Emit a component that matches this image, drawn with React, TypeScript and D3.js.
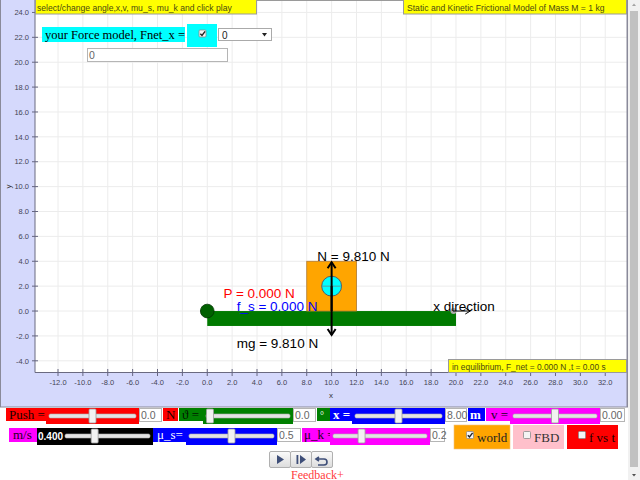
import React from "react";
import * as d3 from "d3";

// ---------- data ----------
const xTickValues = [-12, -10, -8, -6, -4, -2, 0, 2, 4, 6, 8, 10, 12, 14, 16, 18, 20, 22, 24, 26, 28, 30, 32];
const yTickValues = [-4, -2, 0, 2, 4, 6, 8, 10, 12, 14, 16, 18, 20, 22, 24];

const massKg = 1;
const blockX = 8.0;
const blockSize = 4;
const planeLength = 20;
const planeThickness = 1.2;
const ballRadius = 0.8;
const pivotRadius = 0.55;
const forceScale = 0.4;
const timeS = 0.0;
const fNet = 0.0;

const forceNames = ["N", "mg", "P", "f_s"];
const forceValues = [9.81, 9.81, 0.0, 0.0];
const forceColors = ["#000000", "#000000", "#ff0000", "#0000ff"];
// label anchors (world units)
const forceLabelX = [8.85, 2.37, 1.3, 2.37];
const forceLabelY = [4.02, -2.97, 1.02, 0.0];

const pushN = 0.0;
const thetaDeg = 0.0;
const posX = 8.0;
const velocity = 0.0;
const playSpeed = 0.4;
const muS = 0.5;
const muK = 0.2;

const SANS = "'Liberation Sans', Arial, sans-serif";
const SERIF = "'Liberation Serif', 'Times New Roman', serif";

// ---------- scales ----------
const sx = d3.scaleLinear().domain([-13.85, 33.75]).range([35, 627]);
const sy = d3.scaleLinear().domain([-4.9, 25]).range([372, 0]);

type LabelProps = { x0: number; x1: number; y0: number; y1: number; fill: string; text: string; color: string; bold?: boolean; size?: number; tx?: number };
function Label({ x0, x1, y0, y1, fill, text, color, bold, size, tx }: LabelProps) {
  return (
    <g>
      <rect x={x0} y={y0} width={x1 - x0} height={y1 - y0} fill={fill} />
      <text x={tx ?? x0 + 3} y={y0 + 11} fontFamily={SERIF} fontSize={size ?? 13} fontWeight={bold ? "bold" : "normal"} fill={color}>
        {text}
      </text>
    </g>
  );
}

type SliderProps = { x0: number; x1: number; y0: number; y1: number; fill: string; value: number; domain: [number, number] };
function Slider({ x0, x1, y0, y1, fill, value, domain }: SliderProps) {
  const t = d3.scaleLinear().domain(domain).range([x0 + 7, x1 - 7]);
  const cy = y0 + 8;
  const cx = t(value);
  return (
    <g>
      <rect x={x0} y={y0} width={x1 - x0} height={y1 - y0} fill={fill} />
      <rect x={x0 + 3} y={cy - 2} width={x1 - x0 - 6} height={4} fill="#e4e4e4" stroke="#b0b0b0" strokeWidth={0.6} rx={1.5} />
      <rect x={cx - 3.5} y={y0 + 1} width={7} height={14} fill="#f2f2f2" stroke="#9a9a9a" strokeWidth={0.8} rx={1} />
    </g>
  );
}

function Input({ x0, x1, y0, y1, text }: { x0: number; x1: number; y0: number; y1: number; text: string }) {
  return (
    <g>
      <rect x={x0 + 0.5} y={y0 + 0.5} width={x1 - x0 - 1} height={y1 - y0 - 1} fill="#ffffff" stroke="#b5b5b5" />
      <text x={x0 + 2} y={y1 - 3.5} fontFamily={SANS} fontSize={10.5} fill="#666">{text}</text>
    </g>
  );
}

function CheckBox({ x, y, checked }: { x: number; y: number; checked: boolean }) {
  return (
    <g>
      <rect x={x + 0.5} y={y + 0.5} width={7} height={7} fill="#f4f4f4" stroke="#8a8a8a" strokeWidth={0.8} rx={1} />
      {checked && <path d={`M${x + 1.8},${y + 4.2} L${x + 3.5},${y + 6} L${x + 6.6},${y + 1.8}`} fill="none" stroke="#222" strokeWidth={1.4} />}
    </g>
  );
}

export default function App() {
  const x0 = sx(0);
  const y0 = sy(0);

  const nTip = sy(forceValues[0] * forceScale);
  const mgStart = sy(blockSize / 2);
  const mgTip = sy(blockSize / 2 - forceValues[1] * forceScale);
  const ax = sx(blockX + blockSize / 2);
  const ballR = sx(ballRadius) - sx(0);

  return (
    <svg width={640} height={480} style={{ position: "absolute", left: 0, top: 0 }} xmlns="http://www.w3.org/2000/svg">
      <rect x={0} y={0} width={640} height={480} fill="#ffffff" />
      {/* panel */}
      <rect x={0.5} y={-1} width={627} height={408} fill="#d5d9fc" stroke="#8a8a9a" />
      {/* plot area */}
      <rect x={35} y={0} width={592} height={372} fill="#ffffff" />
      {xTickValues.map((v) => (
        <line key={"gx" + v} x1={sx(v)} x2={sx(v)} y1={0} y2={372} stroke="#ececec" />
      ))}
      {yTickValues.map((v) => (
        <line key={"gy" + v} x1={35} x2={627} y1={sy(v)} y2={sy(v)} stroke="#ececec" />
      ))}
      <line x1={35} x2={35} y1={0} y2={372.5} stroke="#6a6a80" />
      <line x1={35} x2={627} y1={372.5} y2={372.5} stroke="#6a6a80" />
      <line x1={35} x2={627} y1={0.5} y2={0.5} stroke="#9a9a9a" />
      <line x1={627} x2={627} y1={0} y2={407} stroke="#8a8a9a" />

      {/* ticks */}
      {xTickValues.map((v) => (
        <g key={"tx" + v}>
          <line x1={sx(v)} x2={sx(v)} y1={369} y2={376} stroke="#666680" />
          <text x={sx(v)} y={384.5} textAnchor="middle" fontFamily={SANS} fontSize={7.5} fill="#444455">{v.toFixed(1)}</text>
        </g>
      ))}
      {yTickValues.map((v) => (
        <g key={"ty" + v}>
          <line x1={32} x2={38} y1={sy(v)} y2={sy(v)} stroke="#666680" />
          <text x={29} y={sy(v) + 2.7} textAnchor="end" fontFamily={SANS} fontSize={7.5} fill="#444455">{v.toFixed(1)}</text>
        </g>
      ))}
      <text x={331} y={398} textAnchor="middle" fontFamily={SANS} fontSize={8} fill="#333">x</text>
      <text transform={`translate(11,${sy(10)}) rotate(-90)`} textAnchor="middle" fontFamily={SANS} fontSize={8} fill="#333">y</text>

      {/* physical objects */}
      <rect x={x0} y={y0} width={sx(planeLength) - x0} height={sy(-planeThickness) - y0} fill="#007a00" />
      <circle cx={x0} cy={y0} r={sx(pivotRadius) - x0} fill="#006000" stroke="#003300" strokeWidth={0.8} />
      <rect x={sx(blockX)} y={sy(blockSize)} width={sx(blockX + blockSize) - sx(blockX)} height={y0 - sy(blockSize)} fill="#ffa500" stroke="#b07a30" strokeWidth={0.8} />
      <circle cx={ax} cy={sy(blockSize / 2)} r={ballR} fill="#00ffff" stroke="#446" strokeWidth={0.8} />
      <line x1={ax - ballR} x2={ax + ballR} y1={sy(blockSize / 2)} y2={sy(blockSize / 2)} stroke="#777" strokeWidth={0.7} />

      {/* x direction */}
      <circle cx={sx(planeLength) - 2.5} cy={y0} r={3} fill="#aaaaaa" />
      <line x1={sx(planeLength) - 3} x2={sx(planeLength + 1.15)} y1={y0} y2={y0} stroke="#000" strokeWidth={1} />
      <path d={`M${sx(planeLength + 1.15) - 5},${y0 - 3} L${sx(planeLength + 1.15)},${y0} L${sx(planeLength + 1.15) - 5},${y0 + 3}`} fill="none" stroke="#000" strokeWidth={1} />

      {/* force arrows */}
      <line x1={ax} x2={ax} y1={y0} y2={nTip} stroke="#000" strokeWidth={2} />
      <path d={`M${ax - 4},${nTip + 6} L${ax},${nTip} L${ax + 4},${nTip + 6}`} fill="none" stroke="#000" strokeWidth={2} />
      <line x1={ax} x2={ax} y1={mgStart} y2={mgTip} stroke="#000" strokeWidth={2} />
      <path d={`M${ax - 4},${mgTip - 6} L${ax},${mgTip} L${ax + 4},${mgTip - 6}`} fill="none" stroke="#000" strokeWidth={2} />

      {forceNames.map((n, i) => (
        <text key={n} x={sx(forceLabelX[i])} y={sy(forceLabelY[i])} fontFamily={SANS} fontSize={13.5} fill={forceColors[i]}>
          {`${n} = ${forceValues[i].toFixed(3)} N`}
        </text>
      ))}
      <text x={sx(18.18)} y={y0} fontFamily={SANS} fontSize={13.5} fill="#000">x direction</text>

      {/* yellow notes */}
      <rect x={35.5} y={-1} width={221} height={15} fill="#ffff00" stroke="#9a9a9a" />
      <text x={37} y={10.5} fontFamily={SANS} fontSize={8.6} fill="#4a4a10">select/change angle,x,v, mu_s, mu_k and click play</text>
      <rect x={403.5} y={-1} width={223} height={15} fill="#ffff00" stroke="#9a9a9a" />
      <text x={407} y={10.5} fontFamily={SANS} fontSize={8.6} fill="#4a4a10">{`Static and Kinetic Frictional Model of Mass M = ${massKg} kg`}</text>
      <rect x={448.5} y={359.5} width={178} height={13} fill="#ffff00" stroke="#9a9a9a" />
      <text x={452} y={369.5} fontFamily={SANS} fontSize={8.4} fill="#4a4a10">{`in equilibrium, F_net = ${fNet.toFixed(3)} N ,t = ${timeS.toFixed(2)} s`}</text>

      {/* force model inputs */}
      <rect x={42} y={27} width={143} height={15} fill="#00ffff" />
      <text x={45} y={39} fontFamily={SERIF} fontSize={12.5} fill="#000">your Force model, Fnet_x =</text>
      <rect x={187} y={24} width={30} height={23} fill="#00ffff" />
      <CheckBox x={198.5} y={29.5} checked={true} />
      <rect x={218.5} y={28.5} width={53} height={12} fill="#fff" stroke="#aaa" />
      <text x={222} y={38.5} fontFamily={SANS} fontSize={10} fill="#222">0</text>
      <path d="M262,33 L267,33 L264.5,36.5 Z" fill="#222" />
      <Input x0={87} x1={228} y0={48} y1={62} text="0" />

      {/* controls row 1 */}
      <Label x0={6} x1={46} y0={408} y1={421} fill="#ff0000" text="Push =" color="#220000" />
      <Slider x0={46} x1={139} y0={408} y1={424} fill="#ff0000" value={pushN} domain={[-10, 10]} />
      <Input x0={139} x1={162} y0={408} y1={422} text={pushN.toFixed(1)} />
      <Label x0={163} x1={178} y0={408} y1={421} fill="#ff0000" text="N" color="#220000" />
      <Label x0={179} x1={205} y0={408} y1={421} fill="#008000" text="ϑ =" color="#001800" />
      <Slider x0={203} x1={293} y0={408} y1={424} fill="#008000" value={thetaDeg} domain={[0, 90]} />
      <Input x0={293} x1={316} y0={408} y1={422} text={thetaDeg.toFixed(1)} />
      <Label x0={317} x1={330} y0={408} y1={421} fill="#008000" text="°" color="#ffffff" size={10} tx={320} />
      <Label x0={330} x1={353} y0={408} y1={421} fill="#0000ff" text="x =" color="#ffffff" bold={true} />
      <Slider x0={352} x1={445} y0={408} y1={424} fill="#0000ff" value={posX} domain={[-10, 26]} />
      <Input x0={445} x1={467} y0={408} y1={422} text={posX.toFixed(2)} />
      <Label x0={468} x1={485} y0={408} y1={421} fill="#0000ff" text="m" color="#ffffff" bold={true} tx={470} />
      <Label x0={486} x1={511} y0={408} y1={421} fill="#ff00ff" text="v =" color="#220022" tx={491} />
      <Slider x0={510} x1={600} y0={408} y1={424} fill="#ff00ff" value={velocity} domain={[-10, 10]} />
      <Input x0={600} x1={625} y0={408} y1={422} text={velocity.toFixed(2)} />

      {/* controls row 2 */}
      <Label x0={9} x1={37} y0={428} y1={442} fill="#ff00ff" text="m/s" color="#220022" tx={13} />
      <rect x={37} y={428} width={116} height={17} fill="#000" />
      <Slider x0={62} x1={153} y0={428} y1={445} fill="#000000" value={playSpeed} domain={[0, 1.2]} />
      <text x={38} y={439.5} fontFamily={SANS} fontSize={10} fontWeight="bold" fill="#fff">{playSpeed.toFixed(3)}</text>
      <Label x0={153} x1={187} y0={428} y1={442} fill="#0000ff" text="μ_s=" color="#ffffff" tx={157} />
      <Slider x0={186} x1={277} y0={428} y1={445} fill="#0000ff" value={muS} domain={[0, 1]} />
      <Input x0={277} x1={301} y0={428} y1={442} text={muS.toFixed(1)} />
      <Label x0={302} x1={331} y0={428} y1={442} fill="#ff00ff" text="μ_k =" color="#220022" tx={304} />
      <Slider x0={330} x1={430} y0={428} y1={445} fill="#ff00ff" value={muK} domain={[0, 0.7]} />
      <Input x0={430} x1={445} y0={428} y1={442} text={muK.toFixed(1)} />

      <rect x={454} y={425} width={56} height={24} fill="#ffa500" stroke="#f0c080" strokeWidth={0.6} />
      <CheckBox x={466} y={431} checked={true} />
      <text x={477} y={442} fontFamily={SERIF} fontSize={13} fill="#222">world</text>
      <rect x={513} y={425} width={51} height={24} fill="#ffc0cb" />
      <CheckBox x={523} y={431} checked={false} />
      <text x={534} y={442} fontFamily={SERIF} fontSize={13} fill="#333">FBD</text>
      <rect x={567} y={425} width={51} height={24} fill="#ff0000" />
      <CheckBox x={578} y={431} checked={false} />
      <text x={589} y={442} fontFamily={SERIF} fontSize={13} fill="#220000">f vs t</text>

      {/* buttons */}
      <defs>
        <linearGradient id="btnbg" x1="0" x2="0" y1="0" y2="1">
          <stop offset="0" stopColor="#fbfbfb" />
          <stop offset="1" stopColor="#dcdcdc" />
        </linearGradient>
      </defs>
      {[269, 290, 311].map((bx, i) => (
        <rect key={"b" + i} x={bx + 0.5} y={451.5} width={21} height={16} fill="url(#btnbg)" stroke="#b0b0b0" rx={1.5} />
      ))}
      <path d="M277,455 L284,459.5 L277,464 Z" fill="#3e4e78" />
      <rect x={296.5} y={455} width={1.8} height={9} fill="#3e4e78" />
      <path d="M300,455 L306,459.5 L300,464 Z" fill="#3e4e78" />
      <path d="M319,457 L316,459 L319,461 M316.5,459 L324,459 Q327,459 327,462 Q327,465 324,465 L318,465" fill="none" stroke="#3e4e78" strokeWidth={1.6} />

      <text x={291} y={478.5} fontFamily={SERIF} fontSize={12} fill="#ff3c3c">Feedback+</text>

      {/* scrollbar */}
      <rect x={628} y={0} width={12} height={480} fill="#f1f1f1" />
      <rect x={630} y={11} width={8} height={456} fill="#c1c1c1" />
      <path d="M632,6 L636,6 L634,3.5 Z" fill="#a3a3a3" />
      <path d="M632,474 L636,474 L634,476.5 Z" fill="#505050" />
    </svg>
  );
}
